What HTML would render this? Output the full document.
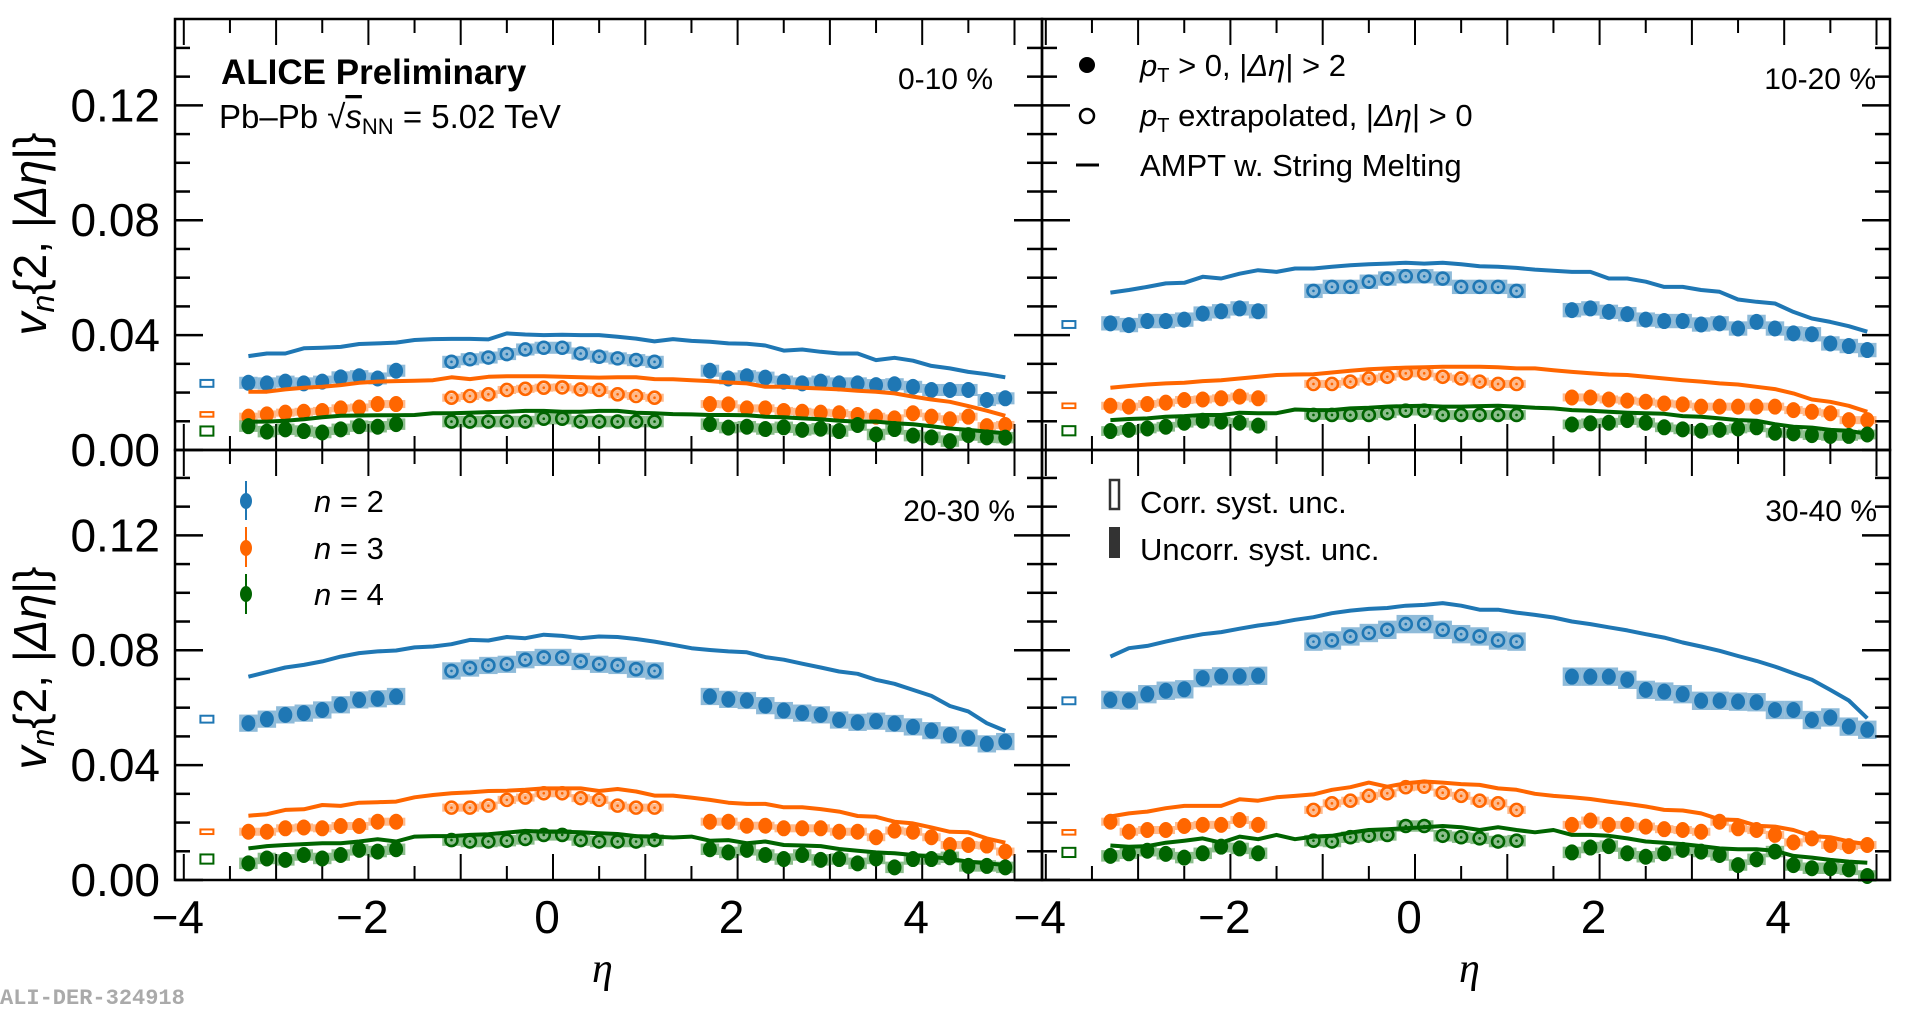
<!DOCTYPE html>
<html><head><meta charset="utf-8"><style>
html,body{margin:0;padding:0;background:#fff;}
svg{display:block;font-family:"Liberation Sans",sans-serif;}
</style></head><body>
<svg id="chart" width="1920" height="1011" viewBox="0 0 1920 1011" xmlns="http://www.w3.org/2000/svg">
<g id="layer"></g>
<text x="221" y="84" font-size="35" font-weight="bold">ALICE Preliminary</text>
<text x="219" y="128" font-size="33">Pb–Pb <tspan font-size="33">√</tspan><tspan text-decoration="overline" font-style="italic">s</tspan><tspan font-size="22" dy="6">NN</tspan><tspan dy="-6"> = 5.02 TeV</tspan></text>
<text x="993" y="89" font-size="30" text-anchor="end">0-10 %</text>
<text x="1876" y="89" font-size="30" text-anchor="end">10-20 %</text>
<text x="1015" y="521" font-size="30" text-anchor="end">20-30 %</text>
<text x="1877" y="521" font-size="30" text-anchor="end">30-40 %</text>
<g>
<circle cx="1087" cy="65" r="8" fill="#000"/>
<text x="1140" y="76" font-size="31"><tspan font-style="italic">p</tspan><tspan font-size="20" dy="6">T</tspan><tspan dy="-6"> &gt; 0, |</tspan><tspan font-style="italic">Δη</tspan>| &gt; 2</text>
<circle cx="1087" cy="116" r="7" fill="none" stroke="#000" stroke-width="2.5"/>
<text x="1140" y="126" font-size="31"><tspan font-style="italic">p</tspan><tspan font-size="20" dy="6">T</tspan><tspan dy="-6"> extrapolated, |</tspan><tspan font-style="italic">Δη</tspan>| &gt; 0</text>
<line x1="1076" y1="165" x2="1099" y2="165" stroke="#000" stroke-width="3"/>
<text x="1140" y="176" font-size="31">AMPT w. String Melting</text>
</g>
<g>
<line x1="246" y1="481" x2="246" y2="520" stroke="#1f77b4" stroke-width="2"/><ellipse cx="246" cy="501" rx="6" ry="8" fill="#1f77b4"/>
<text x="314" y="512" font-size="31"><tspan font-style="italic">n</tspan> = 2</text>
<line x1="246" y1="527" x2="246" y2="567" stroke="#ff6600" stroke-width="2"/><ellipse cx="246" cy="548" rx="6" ry="8" fill="#ff6600"/>
<text x="314" y="559" font-size="31"><tspan font-style="italic">n</tspan> = 3</text>
<line x1="246" y1="574" x2="246" y2="614" stroke="#006400" stroke-width="2"/><ellipse cx="246" cy="594" rx="6" ry="8" fill="#006400"/>
<text x="314" y="605" font-size="31"><tspan font-style="italic">n</tspan> = 4</text>
</g>
<g>
<rect x="1110" y="480" width="9" height="29" fill="#fff" stroke="#333" stroke-width="2.5"/>
<text x="1140" y="513" font-size="31">Corr. syst. unc.</text>
<rect x="1109" y="527" width="11" height="31" fill="#333"/>
<text x="1140" y="560" font-size="31">Uncorr. syst. unc.</text>
</g>
<text transform="translate(46,234) rotate(-90)" text-anchor="middle" font-size="46"><tspan font-style="italic">v</tspan><tspan font-style="italic" font-size="32" dy="8">n</tspan><tspan dy="-8">{2, |</tspan><tspan font-style="italic">Δη</tspan>|}</text>
<text transform="translate(46,668) rotate(-90)" text-anchor="middle" font-size="46"><tspan font-style="italic">v</tspan><tspan font-style="italic" font-size="32" dy="8">n</tspan><tspan dy="-8">{2, |</tspan><tspan font-style="italic">Δη</tspan>|}</text>
<text x="592" y="982" font-size="42" font-style="italic" font-family="Liberation Serif, serif">η</text>
<text x="1459" y="982" font-size="42" font-style="italic" font-family="Liberation Serif, serif">η</text>
<text x="0" y="1004" font-size="22" font-weight="bold" fill="#aaa" font-family="Liberation Mono, monospace">ALI-DER-324918</text>
</svg>
<script>
const etaL=[-3.3,-3.1,-2.9,-2.7,-2.5,-2.3,-2.1,-1.9,-1.7];
const etaO=[-1.1,-0.9,-0.7,-0.5,-0.3,-0.1,0.1,0.3,0.5,0.7,0.9,1.1];
const etaR=[1.7,1.9,2.1,2.3,2.5,2.7,2.9,3.1,3.3,3.5,3.7,3.9,4.1,4.3,4.5,4.7,4.9];
const etaM=[-3.3,-3.1,-2.9,-2.7,-2.5,-2.3,-2.1,-1.9,-1.7,-1.5,-1.3,-1.1,-0.9,-0.7,-0.5,-0.3,-0.1,0.1,0.3,0.5,0.7,0.9,1.1,1.3,1.5,1.7,1.9,2.1,2.3,2.5,2.7,2.9,3.1,3.3,3.5,3.7,3.9,4.1,4.3,4.5,4.7,4.9];
const yTicks=[0,0.04,0.08,0.12];
const yTickLabels=["0.00","0.04","0.08","0.12"];
const xTicks=[-4,-2,0,2,4];
const xTickLabels=["−4","−2","0","2","4"];

// 0-10 %
const p1n2L=[.0234,.0232,.0238,.0232,.0238,.0253,.0257,.0249,.0276];
const p1n2O=[.0307,.0316,.0322,.0334,.0350,.0356,.0356,.0336,.0325,.0319,.0313,.0307];
const p1n2R=[.0276,.0249,.0257,.0252,.0238,.0232,.0238,.0232,.0232,.0226,.0229,.0220,.0209,.0209,.0209,.0174,.0180];
const p1n2M=[.0327,.0336,.0336,.0354,.0356,.0359,.0369,.0371,.0374,.0383,.0386,.0387,.0387,.0385,.0406,.0402,.0400,.0401,.0400,.0400,.0394,.0388,.0378,.0386,.0380,.0377,.0371,.0370,.0364,.0346,.0350,.0342,.0336,.0336,.0313,.0321,.0311,.0293,.0284,.0272,.0264,.0253];
const p1n3L=[.0116,.0124,.0130,.0133,.0136,.0145,.0148,.0160,.0160];
const p1n3O=[.0182,.0188,.0194,.0209,.0213,.0217,.0218,.0211,.0209,.0194,.0188,.0182];
const p1n3R=[.0160,.0159,.0145,.0145,.0136,.0133,.0130,.0128,.0122,.0116,.0110,.0128,.0116,.0107,.0116,.0083,.0087];
const p1n3M=[.0203,.0203,.0211,.0217,.0220,.0226,.0234,.0238,.0240,.0241,.0243,.0253,.0247,.0255,.0257,.0257,.0257,.0255,.0253,.0252,.0253,.0253,.0247,.0246,.0243,.0240,.0235,.0232,.0220,.0220,.0217,.0214,.0211,.0206,.0203,.0197,.0186,.0176,.0168,.0153,.0137,.0119];
const p1n4L=[.0083,.0064,.0072,.0066,.0061,.0072,.0083,.0081,.0090];
const p1n4O=[.0099,.0099,.0099,.0099,.0099,.0109,.0109,.0099,.0099,.0099,.0099,.0099];
const p1n4R=[.0090,.0078,.0081,.0073,.0079,.0070,.0074,.0066,.0087,.0054,.0073,.0050,.0044,.0031,.0052,.0044,.0043];
const p1n4M=[.0099,.0099,.0102,.0107,.0114,.0119,.0120,.0121,.0121,.0122,.0128,.0128,.0130,.0132,.0133,.0136,.0136,.0133,.0133,.0136,.0136,.0130,.0128,.0125,.0124,.0122,.0122,.0121,.0116,.0114,.0110,.0107,.0102,.0099,.0099,.0093,.0090,.0083,.0075,.0070,.0064,.0058];
const p1Corr=[.0232,.0124,.0066];

// 10-20 %
const p2n2L=[.0441,.0435,.0449,.0449,.0454,.0475,.0483,.0493,.0483];
const p2n2O=[.0554,.0568,.0568,.0586,.0597,.0605,.0605,.0597,.0568,.0568,.0568,.0554];
const p2n2R=[.0487,.0493,.0481,.0473,.0454,.0449,.0449,.0437,.0441,.0423,.0446,.0423,.0406,.0403,.0371,.0362,.0348];
const p2n2M=[.0548,.0557,.0568,.0580,.0582,.0603,.0597,.0614,.0626,.0620,.0632,.0632,.0638,.0643,.0647,.0649,.0652,.0649,.0652,.0647,.0640,.0638,.0634,.0628,.0624,.0620,.0620,.0597,.0597,.0586,.0568,.0568,.0557,.0551,.0524,.0516,.0510,.0481,.0458,.0446,.0431,.0412];
const p2n3L=[.0154,.0151,.0160,.0165,.0174,.0176,.0180,.0186,.0180];
const p2n3O=[.0230,.0230,.0238,.0249,.0255,.0267,.0267,.0255,.0249,.0238,.0230,.0230];
const p2n3R=[.0183,.0183,.0176,.0172,.0168,.0162,.0159,.0151,.0151,.0151,.0151,.0151,.0139,.0133,.0128,.0104,.0104];
const p2n3M=[.0217,.0223,.0228,.0232,.0234,.0240,.0243,.0249,.0255,.0261,.0263,.0264,.0270,.0276,.0281,.0284,.0287,.0288,.0290,.0290,.0290,.0288,.0284,.0284,.0278,.0272,.0267,.0263,.0261,.0255,.0249,.0243,.0238,.0232,.0228,.0220,.0212,.0197,.0176,.0168,.0154,.0133];
const p2n4L=[.0066,.0070,.0075,.0081,.0095,.0102,.0099,.0095,.0085];
const p2n4O=[.0122,.0122,.0122,.0122,.0128,.0137,.0137,.0122,.0122,.0122,.0122,.0122];
const p2n4R=[.0089,.0093,.0095,.0104,.0095,.0079,.0072,.0067,.0070,.0075,.0079,.0060,.0058,.0052,.0049,.0049,.0054];
const p2n4M=[.0104,.0108,.0110,.0116,.0118,.0122,.0122,.0130,.0128,.0128,.0141,.0139,.0139,.0145,.0147,.0151,.0153,.0154,.0151,.0151,.0153,.0154,.0151,.0147,.0145,.0139,.0137,.0133,.0130,.0128,.0126,.0118,.0116,.0110,.0104,.0102,.0090,.0081,.0078,.0070,.0067,.0056];
const p2Corr=[.0437,.0154,.0067];

// 20-30 %
const p3n2L=[.0546,.0560,.0575,.0581,.0592,.0610,.0627,.0631,.0639];
const p3n2O=[.0728,.0738,.0747,.0751,.0767,.0775,.0775,.0761,.0751,.0747,.0734,.0728];
const p3n2R=[.0639,.0629,.0625,.0607,.0590,.0581,.0575,.0557,.0549,.0553,.0545,.0533,.0520,.0505,.0494,.0474,.0482];
const p3n2M=[.0708,.0724,.0740,.0749,.0761,.0778,.0790,.0796,.0799,.0810,.0813,.0821,.0836,.0834,.0846,.0842,.0854,.0850,.0842,.0848,.0846,.0839,.0830,.0819,.0807,.0801,.0796,.0793,.0776,.0767,.0753,.0740,.0726,.0718,.0697,.0683,.0662,.0641,.0606,.0587,.0546,.0519];
const p3n3L=[.0168,.0168,.0180,.0183,.0180,.0188,.0188,.0203,.0203];
const p3n3O=[.0252,.0252,.0259,.0279,.0287,.0302,.0302,.0285,.0279,.0259,.0252,.0252];
const p3n3R=[.0203,.0203,.0189,.0189,.0180,.0180,.0180,.0168,.0168,.0149,.0172,.0168,.0149,.0122,.0122,.0120,.0099];
const p3n3M=[.0224,.0229,.0244,.0246,.0261,.0258,.0269,.0271,.0273,.0288,.0296,.0302,.0305,.0310,.0311,.0314,.0319,.0319,.0319,.0310,.0317,.0308,.0294,.0294,.0287,.0279,.0269,.0265,.0265,.0253,.0253,.0247,.0238,.0223,.0220,.0203,.0197,.0183,.0168,.0166,.0145,.0130];
const p3n4L=[.0058,.0075,.0070,.0087,.0075,.0087,.0105,.0099,.0107];
const p3n4O=[.0139,.0134,.0134,.0137,.0143,.0157,.0157,.0139,.0134,.0134,.0134,.0139];
const p3n4R=[.0107,.0096,.0105,.0087,.0073,.0087,.0070,.0073,.0058,.0075,.0044,.0073,.0073,.0079,.0049,.0049,.0044];
const p3n4M=[.0110,.0118,.0122,.0125,.0128,.0128,.0134,.0142,.0134,.0151,.0153,.0153,.0157,.0159,.0165,.0171,.0168,.0168,.0166,.0163,.0160,.0153,.0151,.0148,.0151,.0137,.0139,.0128,.0134,.0122,.0120,.0118,.0108,.0102,.0096,.0093,.0087,.0081,.0073,.0064,.0058,.0052];
const p3Corr=[.0560,.0168,.0073];

// 30-40 %
const p4n2L=[.0627,.0625,.0647,.0659,.0664,.0703,.0709,.0709,.0711];
const p4n2O=[.0830,.0834,.0848,.0860,.0871,.0891,.0891,.0871,.0856,.0848,.0834,.0830];
const p4n2R=[.0708,.0708,.0708,.0697,.0662,.0656,.0647,.0624,.0624,.0621,.0619,.0592,.0592,.0557,.0566,.0534,.0523];
const p4n2M=[.0778,.0807,.0815,.0830,.0844,.0856,.0863,.0875,.0886,.0894,.0906,.0915,.0929,.0938,.0944,.0947,.0955,.0958,.0964,.0955,.0941,.0941,.0931,.0923,.0914,.0900,.0891,.0880,.0869,.0856,.0844,.0827,.0813,.0798,.0780,.0763,.0743,.0720,.0697,.0662,.0625,.0563];
const p4n3L=[.0203,.0168,.0174,.0174,.0188,.0192,.0192,.0209,.0192];
const p4n3O=[.0244,.0267,.0276,.0293,.0302,.0323,.0325,.0304,.0293,.0276,.0267,.0244];
const p4n3R=[.0192,.0207,.0192,.0192,.0186,.0177,.0174,.0168,.0203,.0180,.0174,.0157,.0131,.0145,.0122,.0118,.0122];
const p4n3M=[.0221,.0232,.0238,.0250,.0258,.0258,.0258,.0281,.0276,.0288,.0293,.0298,.0314,.0323,.0339,.0325,.0337,.0343,.0339,.0334,.0331,.0319,.0314,.0300,.0293,.0288,.0282,.0273,.0265,.0256,.0244,.0242,.0232,.0211,.0209,.0189,.0186,.0174,.0153,.0149,.0134,.0124];
const p4n4L=[.0084,.0093,.0102,.0091,.0078,.0093,.0116,.0110,.0093];
const p4n4O=[.0137,.0134,.0149,.0154,.0157,.0188,.0188,.0154,.0149,.0145,.0134,.0137];
const p4n4R=[.0096,.0113,.0118,.0093,.0081,.0093,.0105,.0099,.0087,.0052,.0072,.0099,.0052,.0041,.0041,.0037,.0014];
const p4n4M=[.0120,.0116,.0118,.0130,.0137,.0145,.0130,.0151,.0142,.0157,.0142,.0151,.0154,.0165,.0174,.0177,.0180,.0184,.0188,.0184,.0174,.0184,.0174,.0166,.0174,.0157,.0157,.0154,.0145,.0134,.0130,.0125,.0118,.0110,.0107,.0107,.0102,.0084,.0078,.0070,.0064,.0060];
const p4Corr=[.0624,.0166,.0096];

const NS="http://www.w3.org/2000/svg";
const layer=document.getElementById('layer');
const colors=["#1f77b4","#ff6600","#006400"];
const fills=["rgba(31,119,180,0.5)","rgba(255,102,0,0.45)","rgba(0,110,0,0.45)"];
const SY=2872;
function mk(tag,attrs,parent){const e=document.createElementNS(NS,tag);for(const k in attrs)e.setAttribute(k,attrs[k]);(parent||layer).appendChild(e);return e;}

const panels=[
 {name:"0-10",L:175,R:1042,T:19,B:450,x0:553,d:[[p1n2L,p1n2O,p1n2R,p1n2M],[p1n3L,p1n3O,p1n3R,p1n3M],[p1n4L,p1n4O,p1n4R,p1n4M]],corr:p1Corr,hh:[.0021,.0014,.002],labels:true},
 {name:"10-20",L:1042,R:1890,T:19,B:450,x0:1415,d:[[p2n2L,p2n2O,p2n2R,p2n2M],[p2n3L,p2n3O,p2n3R,p2n3M],[p2n4L,p2n4O,p2n4R,p2n4M]],corr:p2Corr,hh:[.0025,.0014,.0017],labels:false},
 {name:"20-30",L:175,R:1042,T:450,B:880,x0:553,d:[[p3n2L,p3n2O,p3n2R,p3n2M],[p3n3L,p3n3O,p3n3R,p3n3M],[p3n4L,p3n4O,p3n4R,p3n4M]],corr:p3Corr,hh:[.003,.0014,.002],labels:true},
 {name:"30-40",L:1042,R:1890,T:450,B:880,x0:1415,d:[[p4n2L,p4n2O,p4n2R,p4n2M],[p4n3L,p4n3O,p4n3R,p4n3M],[p4n4L,p4n4O,p4n4R,p4n4M]],corr:p4Corr,hh:[.0032,.0014,.002],labels:false}
];
const SX=92.3;

panels.forEach((p,pi)=>{
 const g=mk('g',{});
 
 
 const xs=v=>p.x0+v*SX, ys=v=>p.B-v*SY;
 for(let k=0;k<=15;k++){const v=k*0.01;const maj=(k%4===0);const y=ys(v);if(y<p.T+1)continue;
  const t=mk('line',{x1:p.L,x2:p.L+(maj?28:15),y1:y,y2:y,stroke:"#000","stroke-width":2.5},g);
  
  
  mk('line',{x1:p.R,x2:p.R-(maj?28:15),y1:y,y2:y,stroke:"#000","stroke-width":2.5},g);
 }
 for(let k=-8;k<=10;k++){const v=k*0.5;const x=xs(v);if(x<p.L+2||x>p.R-2)continue;const maj=(k%2===0);
  const t=mk('line',{x1:x,x2:x,y1:p.B,y2:p.B-(maj?26:14),stroke:"#000","stroke-width":2},g);
  
  
  mk('line',{x1:x,x2:x,y1:p.T,y2:p.T+(maj?26:14),stroke:"#000","stroke-width":2},g);
 }
 if(p.labels){yTicks.forEach((v,i)=>{const t=mk('text',{x:160,y:ys(v)+16,"font-size":46,"text-anchor":"end"});t.textContent=yTickLabels[i];
  
  });}
 if(p.B===880){xTicks.forEach((v,i)=>{const t=mk('text',{x:xs(v)-6,y:933,"font-size":46,"text-anchor":"middle"});t.textContent=xTickLabels[i];
  
  });}
 p.corr.forEach((v,s)=>{const hh=[.0012,.0008,.0016][s];const r=mk('rect',{x:xs(-3.82),y:ys(v+hh),width:13,height:Math.max(2*hh*SY,4),fill:"none",stroke:colors[s],"stroke-width":2},g);
  
  });
 p.d.forEach((ser,s)=>{
  const sg=mk('g',{},g);
  
  
  const groups=[[etaL,ser[0],false],[etaO,ser[1],true],[etaR,ser[2],false]];
  groups.forEach(([et,vals])=>{et.forEach((e,i)=>{const r=mk('rect',{x:xs(e-0.1),y:ys(vals[i]+p.hh[s]),width:0.2*SX,height:2*p.hh[s]*SY,fill:fills[s]},sg);
   
   });});
  const pts=etaM.map((e,i)=>xs(e).toFixed(1)+','+ys(ser[3][i]).toFixed(1)).join(' ');
  const pl=mk('polyline',{points:pts,fill:"none",stroke:colors[s],"stroke-width":4,"stroke-linejoin":"round"},sg);
  
  
  groups.forEach(([et,vals,open])=>{et.forEach((e,i)=>{
   if(open){const c=mk('circle',{cx:xs(e),cy:ys(vals[i]),r:6,fill:"none",stroke:colors[s],"stroke-width":2.6},sg);
    
    
    mk('circle',{cx:xs(e),cy:ys(vals[i]),r:1.3,fill:colors[s]},sg);}
   else{const c=mk('ellipse',{cx:xs(e),cy:ys(vals[i]),rx:7,ry:8,fill:colors[s]},sg);
    
    }
  });});
 });
 const fr=mk('rect',{x:p.L,y:p.T,width:p.R-p.L,height:p.B-p.T,fill:"none",stroke:"#000","stroke-width":2.5},g);
 
 
});
</script>
</body></html>
